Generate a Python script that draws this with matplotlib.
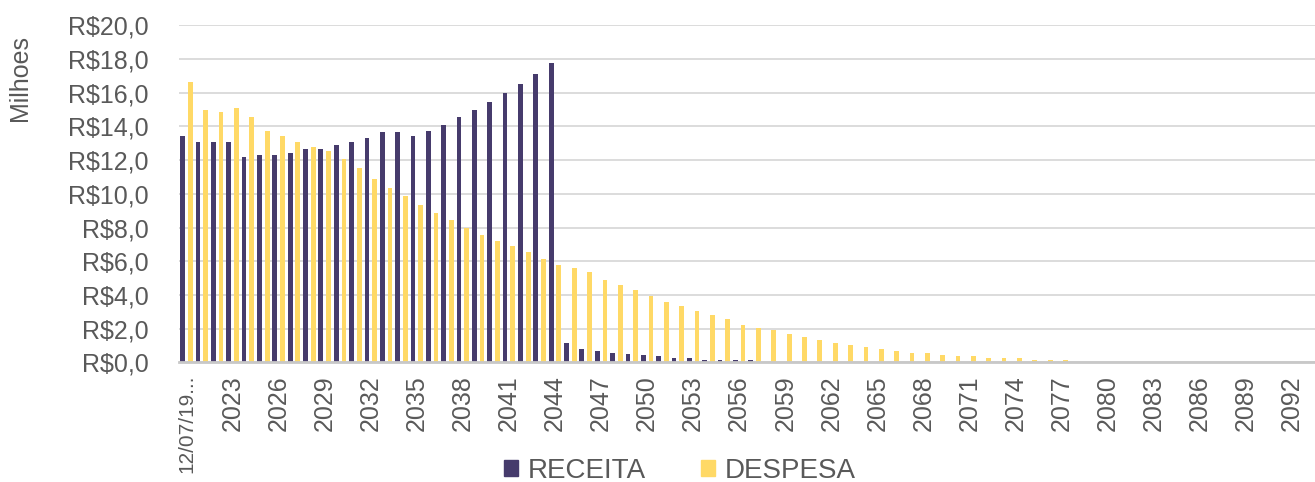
import matplotlib
matplotlib.use("Agg")
import matplotlib.pyplot as plt
from matplotlib.patches import Patch
import numpy as np

# categories: first one is a truncated date, then years 2021..2093
categories = ["12/07/19..."] + [str(y) for y in range(2021, 2094)]

receita = [13.40, 13.08, 13.08, 13.08, 12.19, 12.29, 12.29, 12.41, 12.65, 12.65,
           12.87, 13.08, 13.30, 13.64, 13.64, 13.40, 13.75, 14.07, 14.53, 14.96,
           15.42, 15.97, 16.52, 17.08, 17.73, 1.15, 0.81, 0.69, 0.58, 0.48,
           0.47, 0.37, 0.25, 0.25, 0.14, 0.14, 0.14, 0.14]

despesa = [16.62, 14.96, 14.86, 15.08, 14.53, 13.75, 13.40, 13.08, 12.75, 12.53,
           12.09, 11.54, 10.87, 10.32, 9.88, 9.33, 8.87, 8.44, 7.98, 7.55,
           7.21, 6.88, 6.56, 6.13, 5.80, 5.57, 5.36, 4.90, 4.61, 4.27,
           3.93, 3.59, 3.37, 3.03, 2.81, 2.57, 2.23, 2.03, 1.91, 1.69,
           1.48, 1.36, 1.14, 1.02, 0.92, 0.80, 0.68, 0.56, 0.56, 0.46,
           0.36, 0.36, 0.24, 0.24, 0.24, 0.14, 0.14, 0.14]

yticks = [0, 2, 4, 6, 8, 10, 12, 14, 16, 18, 20]
ytick_labels = ["R$%d,0" % v for v in yticks]

# remaining years have no values
n = len(categories)
receita = receita + [0.0] * (n - len(receita))
despesa = despesa + [0.0] * (n - len(despesa))

c_rec = "#463b6c"
c_des = "#ffd966"
txt = "#595959"

plt.rcParams['font.family'] = ['Liberation Sans', 'DejaVu Sans']

fig = plt.figure(figsize=(13.15, 4.82), dpi=100)
ax = fig.add_axes([0.136, 0.248, 0.864, 0.700])

x = np.arange(n)
ax.bar(x - 0.25, receita, width=0.31, color=c_rec, zorder=3)
ax.bar(x + 0.25, despesa, width=0.31, color=c_des, zorder=3)

ax.set_xlim(-0.5, n - 0.5)
ax.set_ylim(0, 20)
ax.set_yticks(yticks)
ax.set_yticklabels(ytick_labels, fontsize=18, color=txt)
ax.tick_params(axis='y', length=0, pad=22)

ax.set_xticks(x[::3])
ax.set_xticklabels(categories[::3], rotation=90, fontsize=18, color=txt)
ax.get_xticklabels()[0].set_fontsize(15)
ax.tick_params(axis='x', length=0, pad=9)

ax.grid(axis='y', color="#d9d9d9", linewidth=1.3, zorder=0)
ax.set_axisbelow(True)
for s in ['top', 'right', 'left']:
    ax.spines[s].set_visible(False)
ax.spines['bottom'].set_color("#c8c8c8")
ax.spines['bottom'].set_linewidth(2)
ax.spines['bottom'].set_zorder(4)

fig.text(20 / 1315, 1 - 78 / 482, "Milhoes", rotation=90, ha='center', va='center',
         fontsize=18, color=txt)

handles = [Patch(color=c_rec, label="RECEITA"), Patch(color=c_des, label="DESPESA")]
fig.legend(handles=handles, loc='center', bbox_to_anchor=(0.517, 1 - 471 / 482), ncol=2,
           frameon=False, fontsize=20, labelcolor=txt, handlelength=0.5, handleheight=0.5,
           handletextpad=0.35, columnspacing=2.0, borderpad=0)

fig.savefig("out.png", dpi=100)
